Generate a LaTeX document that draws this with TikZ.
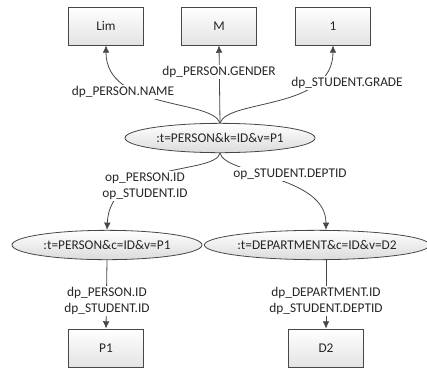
\documentclass[tikz,border=0pt]{standalone}
\usepackage{fontspec}
\setmainfont{Carlito}
\usetikzlibrary{shapes.geometric,arrows.meta}

\definecolor{linegray}{HTML}{474747}
\definecolor{textgray}{HTML}{262626}

\begin{document}
\begin{tikzpicture}[x=0.75pt,y=-0.75pt]
\tikzstyle{every node}+=[inner sep=1pt,text=textgray,font=\fontsize{10}{12}\selectfont]
\tikzstyle{valbox}=[draw=linegray,line width=0.6pt,rectangle,minimum width=56pt,minimum height=28.5pt,top color=white,bottom color=gray!22]
\tikzstyle{keyell}=[draw=linegray,line width=0.6pt,ellipse,minimum width=142.5pt,minimum height=22pt,inner sep=0pt,top color=white,bottom color=gray!28]
\tikzstyle{lbl}=[fill=white,align=center,inner sep=1pt]
\tikzstyle{arr}=[draw=linegray,line width=0.6pt,-{Latex[length=5.5pt,width=5pt]}]
\useasboundingbox (0,0) rectangle (427,368);
% value boxes
\node[valbox] (lim) at (106,26) {Lim};
\node[valbox] (m) at (219,26) {M};
\node[valbox] (one) at (333,26) {1};
\node[valbox] (p1) at (106,348) {P1};
\node[valbox] (d2) at (326,348) {D2};
% key ellipses
\node[keyell] (top) at (220,138) {:t=PERSON\&k=ID\&v=P1};
\node[keyell] (lft) at (107,245) {:t=PERSON\&c=ID\&v=P1};
\node[keyell] (rgt) at (317,245) {:t=DEPARTMENT\&c=ID\&v=D2};
% upward edges
\draw[arr] (top.north) .. controls +(-8,-24) and +(0,65) .. (lim.south);
\node[lbl] (lname) at (123,92) {dp\_PERSON.NAME};
\draw[arr] (top.north) -- (m.south);
\node[lbl] (lgender) at (219,72) {dp\_PERSON.GENDER};
\draw[arr] (top.north) .. controls +(8,-24) and +(0,65) .. (one.south);
\node[lbl] (lgrade) at (347,83) {dp\_STUDENT.GRADE};
% downward edges
\draw[arr] (top.south) .. controls +(-5,22) and +(3,-70) .. (lft.north);
\node[lbl] (lopid) at (145,186) {op\_PERSON.ID\\op\_STUDENT.ID};
\draw[arr] (top.south) .. controls +(5,22) and +(0,-55) .. (rgt.north -| d2.north);
\node[lbl] (ldept) at (290,174) {op\_STUDENT.DEPTID};
\draw[arr] (lft.south) -- (p1.north);
\node[lbl] (ldpid) at (107,301) {dp\_PERSON.ID\\dp\_STUDENT.ID};
\draw[arr] (rgt.south -| d2.north) -- (d2.north);
\node[lbl] (ldeptid) at (326,301) {dp\_DEPARTMENT.ID\\dp\_STUDENT.DEPTID};
\end{tikzpicture}
\end{document}
